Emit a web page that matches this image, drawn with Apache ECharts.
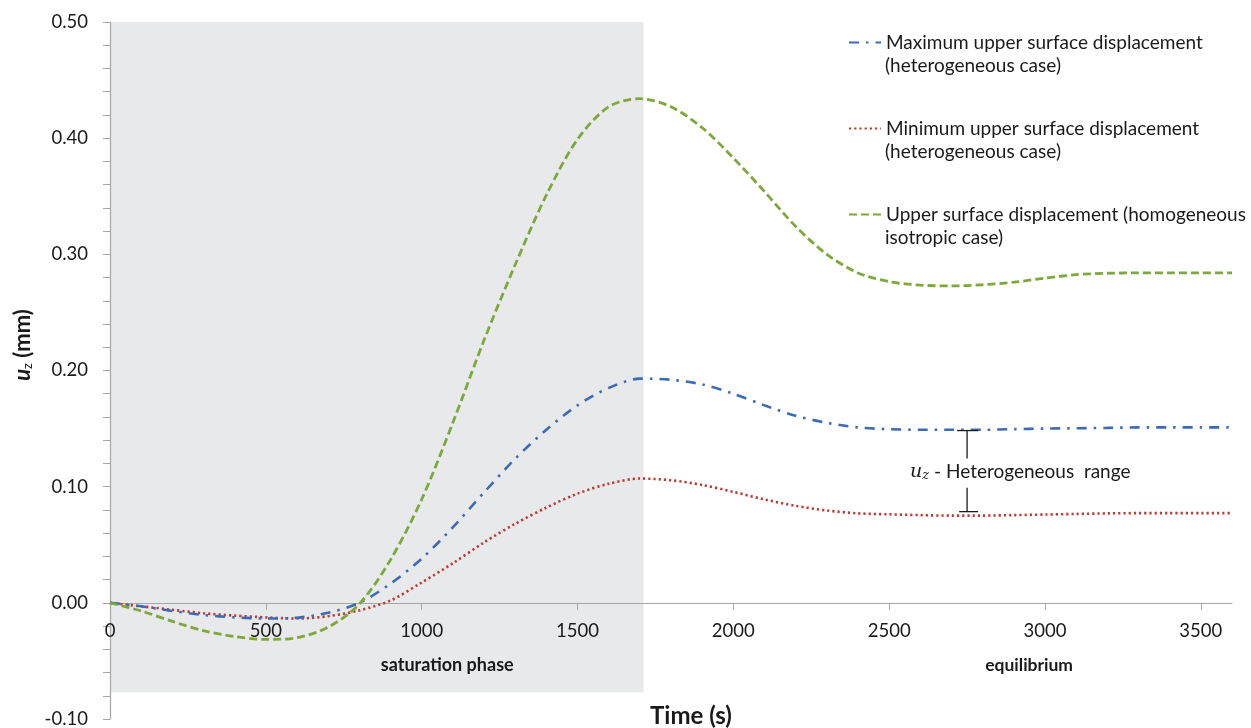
<!DOCTYPE html>
<html>
<head>
<meta charset="utf-8">
<script src="https://cdn.jsdelivr.net/npm/echarts@6/dist/echarts.min.js"></script>
<style>
  html, body { margin: 0; padding: 0; background: #ffffff; }
  #chart { width: 1251px; height: 728px; }
</style>
</head>
<body>
<div id="chart"></div>
<script>
// ---- data ----
const timeSec = [0,100,200,300,400,500,600,700,800,900,1000,1100,1200,1300,1400,1500,1600,1700,1800,1900,2000,2100,2200,2300,2400,2500,2600,2700,2800,2900,3000,3100,3200,3300,3400,3500,3600];

const maxHetero = [0,-0.003,-0.007,-0.0105,-0.0125,-0.0135,-0.0128,-0.0085,0.000,0.0165,0.038,0.065,0.095,0.124,0.149,0.170,0.185,0.193,0.192,0.188,0.180,0.170,0.161,0.155,0.151,0.1495,0.149,0.149,0.149,0.1495,0.150,0.1503,0.1506,0.151,0.151,0.151,0.151];

const minHetero = [0,-0.003,-0.006,-0.009,-0.011,-0.0125,-0.0135,-0.0115,-0.0065,0.002,0.0175,0.034,0.052,0.068,0.082,0.094,0.1025,0.107,0.1055,0.1015,0.0955,0.089,0.0835,0.0795,0.077,0.0762,0.0755,0.0751,0.0751,0.0755,0.076,0.0765,0.077,0.0772,0.0772,0.0772,0.0772];

const homoIso = [0,-0.007,-0.016,-0.024,-0.029,-0.0315,-0.030,-0.021,-0.001,0.037,0.089,0.155,0.226,0.291,0.351,0.399,0.427,0.434,0.427,0.409,0.383,0.354,0.324,0.300,0.284,0.2765,0.2735,0.2728,0.2738,0.276,0.2795,0.2825,0.2837,0.284,0.284,0.284,0.284];

const xTickValues = [0,500,1000,1500,2000,2500,3000,3500];
const legendFirstLines = [
  'Maximum upper surface displacement',
  'Minimum upper surface displacement',
  'Upper surface displacement (homogeneous'
];
const legendSecondLines = [
  '(heterogeneous case)',
  '(heterogeneous case)',
  'isotropic case)'
];
const saturationEnd = 1712;     // end of the saturation phase (s)
const shadeBottom = -0.077;     // lower edge of shaded region
const rangeTime = 2750;         // where the heterogeneous range bracket sits
const rangeTop = 0.1483;
const rangeBottom = 0.0785;

const pairs = (ys) => timeSec.map((t, i) => [t, ys[i]]);

const FONT = 'Lato, "Open Sans", sans-serif';
const INK = '#1a1a1a';
const AXIS = '#a6a6a6';
const chart = echarts.init(document.getElementById('chart'));

const LEG_TOP = 31, LEG_STEP = 86, LEG_LINE = 23, LEG_TEXT_X = 885;

const option = {
  backgroundColor: '#ffffff',
  animation: false,
  textStyle: { fontFamily: FONT },
  grid: { left: 110, right: 19, top: 22, bottom: 9, containLabel: false, outerBoundsMode: 'none' },
  legend: {
    orient: 'vertical',
    left: 848,
    top: LEG_TOP,
    padding: 0,
    itemGap: LEG_STEP - LEG_LINE,
    itemWidth: 32,
    itemHeight: LEG_LINE,
    selectedMode: false,
    itemStyle: { opacity: 0 },
    textStyle: { fontFamily: FONT, fontSize: 19, color: INK, lineHeight: LEG_LINE },
    data: legendFirstLines
  },
  xAxis: {
    type: 'value',
    min: 0, max: 3600, interval: 500,
    z: 3,
    axisLine: { onZero: false, lineStyle: { color: AXIS, width: 1.2 } },
    axisTick: { show: true, inside: false, length: 7, customValues: xTickValues, lineStyle: { color: AXIS } },
    axisLabel: { customValues: xTickValues, margin: 19, fontSize: 18.5, color: INK, fontFamily: FONT, formatter: (v) => String(v) },
    splitLine: { show: false }
  },
  yAxis: {
    type: 'value',
    min: -0.1, max: 0.5, interval: 0.1,
    z: 3,
    axisLine: { show: true, onZero: false, lineStyle: { color: AXIS, width: 1.2 } },
    axisTick: { show: true, length: 7, lineStyle: { color: AXIS } },
    minorTick: { show: true, splitNumber: 5, length: 7, lineStyle: { color: AXIS } },
    axisLabel: { margin: 22, fontSize: 18.5, color: INK, fontFamily: FONT, formatter: (v) => v.toFixed(2) },
    splitLine: { show: false }
  },
  series: [
    {
      name: 'shade',
      type: 'line',
      data: [],
      z: 1,
      silent: true,
      markArea: {
        silent: true,
        itemStyle: { color: '#e8e9eb' },
        data: [[{ xAxis: 0, yAxis: shadeBottom }, { xAxis: saturationEnd, yAxis: 0.5 }]]
      }
    },
    {
      name: legendFirstLines[0],
      type: 'line',
      data: pairs(maxHetero),
      smooth: 0.3,
      symbol: 'none',
      z: 5,
      lineStyle: { color: '#3b6bb4', width: 2.6, type: [10, 7, 2.5, 7] },
      itemStyle: { color: '#3b6bb4' }
    },
    {
      name: legendFirstLines[1],
      type: 'line',
      data: pairs(minHetero),
      smooth: 0.3,
      symbol: 'none',
      z: 4,
      lineStyle: { color: '#be3a34', width: 2.6, type: [2.2, 3] },
      itemStyle: { color: '#be3a34' }
    },
    {
      name: legendFirstLines[2],
      type: 'line',
      data: pairs(homoIso),
      smooth: 0.3,
      symbol: 'none',
      z: 6,
      lineStyle: { color: '#7ea83b', width: 2.8, type: [8, 4] },
      itemStyle: { color: '#7ea83b' }
    }
  ]
};
chart.setOption(option);

// put the x axis on the zero line, using the library's own y scale
const zeroY = chart.convertToPixel({ yAxisIndex: 0 }, 0);
const minY = chart.convertToPixel({ yAxisIndex: 0 }, -0.1);
chart.setOption({ xAxis: { offset: -(minY - zeroY) } });

// annotations positioned through the chart's own scales
const pTop = chart.convertToPixel({ gridIndex: 0 }, [rangeTime, rangeTop]);
const pBot = chart.convertToPixel({ gridIndex: 0 }, [rangeTime, rangeBottom]);
const pSat = chart.convertToPixel({ gridIndex: 0 }, [1082, -0.0534]);
const pEq = chart.convertToPixel({ gridIndex: 0 }, [2949, -0.0534]);
const midY = (pTop[1] + pBot[1]) / 2 + 1;
const lineStyle = { stroke: INK, lineWidth: 1.3 };

const legendSecond = legendSecondLines.map((txt, i) => ({
  type: 'text', x: LEG_TEXT_X, y: LEG_TOP + LEG_LINE / 2 + i * LEG_STEP + LEG_LINE, z: 10,
  style: { text: txt, fontFamily: FONT, fontSize: 19, fill: INK, verticalAlign: 'middle' }
}));

chart.setOption({
  graphic: [
    { type: 'line', shape: { x1: pTop[0] - 10, y1: pTop[1], x2: pTop[0] + 11, y2: pTop[1] }, style: lineStyle, z: 10 },
    { type: 'line', shape: { x1: pTop[0], y1: pTop[1], x2: pTop[0], y2: pTop[1] + 28 }, style: lineStyle, z: 10 },
    { type: 'line', shape: { x1: pBot[0], y1: pBot[1] - 24, x2: pBot[0], y2: pBot[1] }, style: lineStyle, z: 10 },
    { type: 'line', shape: { x1: pBot[0] - 8, y1: pBot[1], x2: pBot[0] + 11, y2: pBot[1] }, style: lineStyle, z: 10 },
    {
      type: 'text', x: pTop[0] - 57, y: midY, z: 10,
      style: {
        text: '{u|u}{z|z}{t| - Heterogeneous  range}',
        verticalAlign: 'middle',
        rich: {
          u: { fontFamily: '"DejaVu Serif", serif', fontStyle: 'italic', fontSize: 19, fill: INK },
          z: { fontFamily: '"DejaVu Serif", serif', fontStyle: 'italic', fontSize: 13, fill: INK, verticalAlign: 'bottom', padding: [8, 0, 0, 0] },
          t: { fontFamily: FONT, fontSize: 19, fill: INK }
        }
      }
    },
    {
      type: 'text', x: pSat[0], y: pSat[1], z: 10,
      style: { text: 'saturation phase', fontFamily: FONT, fontWeight: 'bold', fontSize: 18, fill: INK, align: 'center', verticalAlign: 'middle' }
    },
    {
      type: 'text', x: pEq[0], y: pEq[1], z: 10,
      style: { text: 'equilibrium', fontFamily: FONT, fontWeight: 'bold', fontSize: 17.5, fill: INK, align: 'center', verticalAlign: 'middle' }
    },
    {
      type: 'text', x: 691, y: 716, z: 10,
      style: { text: 'Time (s)', fontFamily: FONT, fontWeight: 'bold', fontSize: 24, fill: INK, align: 'center', verticalAlign: 'middle' }
    },
    {
      type: 'text', x: 23, y: 345, rotation: Math.PI / 2, z: 10,
      style: {
        text: '{u|u}{z|z}{t| (mm)}',
        align: 'center', verticalAlign: 'middle',
        rich: {
          u: { fontFamily: FONT, fontStyle: 'italic', fontWeight: 'bold', fontSize: 22, fill: INK },
          z: { fontFamily: FONT, fontSize: 13, fill: INK, verticalAlign: 'bottom', padding: [9, 0, 0, 0] },
          t: { fontFamily: FONT, fontWeight: 'bold', fontSize: 22, fill: INK }
        }
      }
    }
  ].concat(legendSecond)
});
</script>
</body>
</html>
